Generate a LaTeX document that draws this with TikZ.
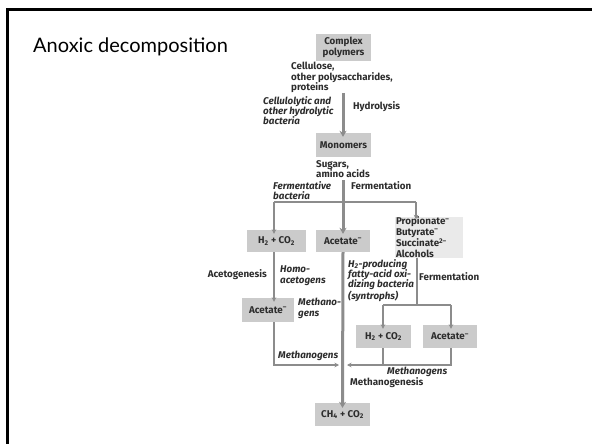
\documentclass[tikz,border=0pt]{standalone}
\usepackage{fontspec}
\setmainfont{Fira Sans}
\newfontfamily\titlefont{Lato}
\usetikzlibrary{arrows.meta}
\definecolor{boxgray}{RGB}{203,203,203}
\definecolor{lightbox}{RGB}{234,234,234}
\definecolor{arrgray}{RGB}{140,140,140}
\definecolor{txt}{RGB}{45,45,45}
\tikzset{
  fs/.style={font=\fontsize{9.8}{10.4}\selectfont\bfseries},
  box/.style={fs, fill=boxgray, text=txt, inner sep=0pt, align=center},
  lbl/.style={fs, text=txt, inner sep=0pt, align=left},
  itl/.style={font=\fontsize{9.8}{10.4}\selectfont\bfseries\itshape, text=txt, inner sep=0pt, align=left},
  thin/.style={draw=arrgray, line width=1.5pt},
  thinarr/.style={thin, -{Stealth[length=4.5pt,width=4.5pt]}},
  thick/.style={draw=arrgray, line width=3pt},
  thickarr/.style={thick, -{Stealth[length=6pt,width=7pt]}}
}
\begin{document}
\begin{tikzpicture}[x=1pt,y=-1pt]
\useasboundingbox (0,0) rectangle (592,444);
\fill[white] (0,0) rectangle (592,444);
\draw[line width=3pt] (7.5,446) -- (7.5,10) -- (594,10);
\node[anchor=west, inner sep=0pt, font=\titlefont\fontsize{20}{22}\selectfont] (title) at (33,47) {Anoxic decomposition};

% boxes
\node[box, minimum width=55pt, minimum height=27pt] (cp) at (343.5,47.5) {Complex\\polymers};
\node[box, minimum width=55pt, minimum height=24pt] (mono) at (343.5,145) {Monomers};
\node[box, minimum width=59pt, minimum height=22pt] (h2a) at (276.5,241) {H\textsubscript{2} + CO\textsubscript{2}};
\node[box, minimum width=54pt, minimum height=22pt] (ac1) at (343,241) {Acetate\textsuperscript{–}};
\node[box, fill=lightbox, minimum width=68pt, minimum height=41pt, align=left, text width=66pt, inner xsep=1pt] (prop) at (429,237) {Propionate\textsuperscript{–}\\Butyrate\textsuperscript{–}\\Succinate\textsuperscript{2–}\\Alcohols};
\node[box, minimum width=52pt, minimum height=24pt] (ac2) at (268,310) {Acetate\textsuperscript{–}};
\node[box, minimum width=55pt, minimum height=23pt] (h2b) at (383.5,336.5) {H\textsubscript{2} + CO\textsubscript{2}};
\node[box, minimum width=54pt, minimum height=23pt] (ac3) at (450,336.5) {Acetate\textsuperscript{–}};
\node[box, minimum width=55pt, minimum height=23pt] (ch4) at (342.5,414.5) {CH\textsubscript{4} + CO\textsubscript{2}};

% texts
\node[lbl, anchor=north west] (cell) at (291,62) {Cellulose,\\other polysaccharides,\\proteins};
\node[itl, anchor=north west] (hydb) at (263,96) {Cellulolytic and\\other hydrolytic\\bacteria};
\node[lbl, anchor=west] (hydro) at (353,107) {Hydrolysis};
\node[lbl, anchor=north west] (sug) at (316,160) {Sugars,\\amino acids};
\node[itl, anchor=north west] (fermb) at (273,181) {Fermentative\\bacteria};
\node[lbl, anchor=west] (ferm1) at (351,186) {Fermentation};
\node[lbl, anchor=east] (acg) at (267,275) {Acetogenesis};
\node[itl, anchor=north west] (homo) at (280,266) {Homo-\\acetogens};
\node[itl, anchor=north west] (meth1) at (298,298) {Methano-\\gens};
\node[itl, anchor=north west] (synt) at (348,259) {H\textsubscript{2}-producing\\fatty-acid oxi-\\dizing bacteria\\(syntrophs)};
\node[lbl, anchor=west] (ferm2) at (419,277) {Fermentation};
\node[itl, anchor=west] (meth2) at (278,356) {Methanogens};
\node[itl, anchor=west] (meth3) at (387,372) {Methanogens};
\node[lbl, anchor=west] (mgen) at (350,383) {Methanogenesis};

% junction coordinates
\coordinate (hs) at (343,93);
\coordinate (ms) at (343,180);
\coordinate (bl) at (274,202);
\coordinate (br) at (416,202);
\coordinate (pj) at (417,305);
\coordinate (pl) at (383,305);
\coordinate (pr) at (451,305);
\coordinate (ll) at (274,365);
\coordinate (lr) at (383,365);
\coordinate (rr) at (451,365);

% connectors
\draw[thickarr] (hs) -- ([yshift=-4pt]mono.north -| hs);
\draw[thickarr] (ms) -- ([yshift=-4pt]ac1.north);
\draw[thin] (bl) -- (br);
\draw[thinarr] (bl) -- ([yshift=-4pt]h2a.north -| bl);
\draw[thinarr] (br) -- ([yshift=-3pt]prop.north -| br);
\draw[thinarr] (h2a.south -| bl) -- ([yshift=-4pt]ac2.north -| bl);
\draw[thin] (prop.south -| pj) -- (pj);
\draw[thin] (pl) -- (pr);
\draw[thinarr] (pl) -- ([yshift=-4pt]h2b.north -| pl);
\draw[thinarr] (pr) -- ([yshift=-4pt]ac3.north -| pr);
\draw[thickarr] (ac1.south) -- ([yshift=-5pt]ch4.north);
\draw[thinarr] (ac2.south -| ll) -- (ll) -- ([xshift=-4pt]ll -| ac1.south);
\draw[thin] (h2b.south -| lr) -- (lr);
\draw[thinarr] (ac3.south -| rr) -- (rr) -- ([xshift=4pt]rr -| ac1.south);
\end{tikzpicture}
\end{document}
